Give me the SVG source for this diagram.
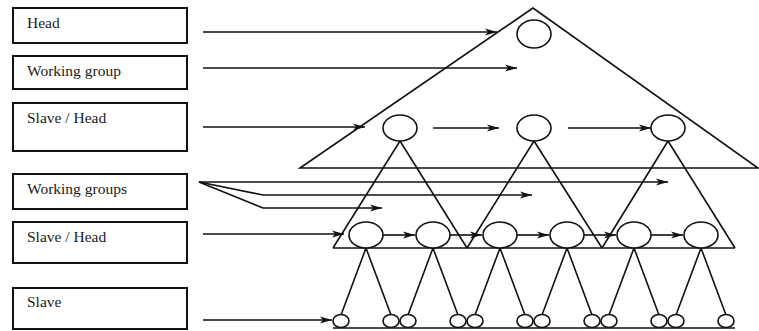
<svg xmlns="http://www.w3.org/2000/svg" width="759" height="331" viewBox="0 0 759 331">
<style>
.box{fill:#fff;stroke:#111;stroke-width:2}
.lbl{font-family:"Liberation Serif","Times New Roman",serif;font-size:15.5px;fill:#1a1a1a}
.ln{fill:none;stroke:#111;stroke-width:1.6}
.ar{fill:none;stroke:#111;stroke-width:1.6;marker-end:url(#ah)}
.nd{fill:#fff;stroke:#111;stroke-width:1.6}
</style>
<defs>
<marker id="ah" markerUnits="userSpaceOnUse" markerWidth="14" markerHeight="8" refX="12" refY="4" orient="auto">
<path d="M0,0.5 L12,4 L0,7.5 L3,4 Z" fill="#111"/>
</marker>
</defs>
<rect width="759" height="331" fill="#fff"/>
<g id="labels">
<g id="box-head"><rect class="box" x="13" y="8" width="174" height="35"/><text class="lbl" x="27" y="28">Head</text></g>
<g id="box-working-group"><rect class="box" x="13" y="56" width="174" height="33"/><text class="lbl" x="27" y="76">Working group</text></g>
<g id="box-slave-head-1"><rect class="box" x="13" y="103" width="174" height="48"/><text class="lbl" x="27" y="123">Slave / Head</text></g>
<g id="box-working-groups"><rect class="box" x="13" y="174" width="174" height="35"/><text class="lbl" x="27" y="194">Working groups</text></g>
<g id="box-slave-head-2"><rect class="box" x="13" y="222" width="174" height="41"/><text class="lbl" x="27" y="242">Slave / Head</text></g>
<g id="box-slave"><rect class="box" x="13" y="288" width="174" height="41"/><text class="lbl" x="27" y="307">Slave</text></g>
</g>
<g id="connectors">
<polygon class="ln" points="533,8 300,168 758,168"/>
<line class="ln" x1="333" y1="248" x2="735" y2="248"/>
<line class="ln" x1="333" y1="328" x2="735" y2="328"/>
<path class="ln" d="M400,141 L333,248 M400,141 L467,248 M534,141 L467,248 M534,141 L602,248 M668,141 L602,248 M668,141 L735,248"/>
<path class="ln" d="M366,248 L341,315 M366,248 L391,315 M433,248 L408,315 M433,248 L458,315 M500,248 L475,315 M500,248 L525,315 M567,248 L542,315 M567,248 L592,315 M634,248 L609,315 M634,248 L659,315 M701,248 L676,315 M701,248 L726,315"/>
<line class="ar" x1="203" y1="32" x2="497" y2="32"/>
<line class="ar" x1="203" y1="68" x2="517" y2="68"/>
<line class="ar" x1="203" y1="127" x2="365" y2="127"/>
<line class="ar" x1="433" y1="128" x2="499" y2="128"/>
<line class="ar" x1="568" y1="128" x2="651" y2="128"/>
<line class="ar" x1="199" y1="182" x2="668" y2="182"/>
<polyline class="ar" points="199,182 263,195 532,195"/>
<polyline class="ar" points="199,182 263,208 382,208"/>
<line class="ar" x1="203" y1="234" x2="344" y2="234"/>
<line class="ar" x1="383" y1="235" x2="415" y2="235"/>
<line class="ar" x1="450" y1="235" x2="482" y2="235"/>
<line class="ar" x1="517" y1="235" x2="549" y2="235"/>
<line class="ar" x1="584" y1="235" x2="616" y2="235"/>
<line class="ar" x1="651" y1="235" x2="683" y2="235"/>
<line class="ar" x1="203" y1="320" x2="332" y2="320"/>
</g>
<g id="nodes">
<g id="head"><ellipse class="nd" cx="534" cy="34" rx="17" ry="14"/></g>
<g id="sh1-1"><ellipse class="nd" cx="400" cy="128" rx="17" ry="13"/></g>
<g id="sh1-2"><ellipse class="nd" cx="534" cy="128" rx="17" ry="13"/></g>
<g id="sh1-3"><ellipse class="nd" cx="668" cy="128" rx="17" ry="13"/></g>
<g id="sh2-1"><ellipse class="nd" cx="366" cy="235" rx="17" ry="13"/></g>
<g id="sh2-2"><ellipse class="nd" cx="433" cy="235" rx="17" ry="13"/></g>
<g id="sh2-3"><ellipse class="nd" cx="500" cy="235" rx="17" ry="13"/></g>
<g id="sh2-4"><ellipse class="nd" cx="567" cy="235" rx="17" ry="13"/></g>
<g id="sh2-5"><ellipse class="nd" cx="634" cy="235" rx="17" ry="13"/></g>
<g id="sh2-6"><ellipse class="nd" cx="701" cy="235" rx="17" ry="13"/></g>
<g id="slaves">
<ellipse class="nd" cx="341" cy="321" rx="8" ry="6.5"/>
<ellipse class="nd" cx="391" cy="321" rx="8" ry="6.5"/>
<ellipse class="nd" cx="408" cy="321" rx="8" ry="6.5"/>
<ellipse class="nd" cx="458" cy="321" rx="8" ry="6.5"/>
<ellipse class="nd" cx="475" cy="321" rx="8" ry="6.5"/>
<ellipse class="nd" cx="525" cy="321" rx="8" ry="6.5"/>
<ellipse class="nd" cx="542" cy="321" rx="8" ry="6.5"/>
<ellipse class="nd" cx="592" cy="321" rx="8" ry="6.5"/>
<ellipse class="nd" cx="609" cy="321" rx="8" ry="6.5"/>
<ellipse class="nd" cx="659" cy="321" rx="8" ry="6.5"/>
<ellipse class="nd" cx="676" cy="321" rx="8" ry="6.5"/>
<ellipse class="nd" cx="726" cy="321" rx="8" ry="6.5"/>
</g>
</g>
</svg>
